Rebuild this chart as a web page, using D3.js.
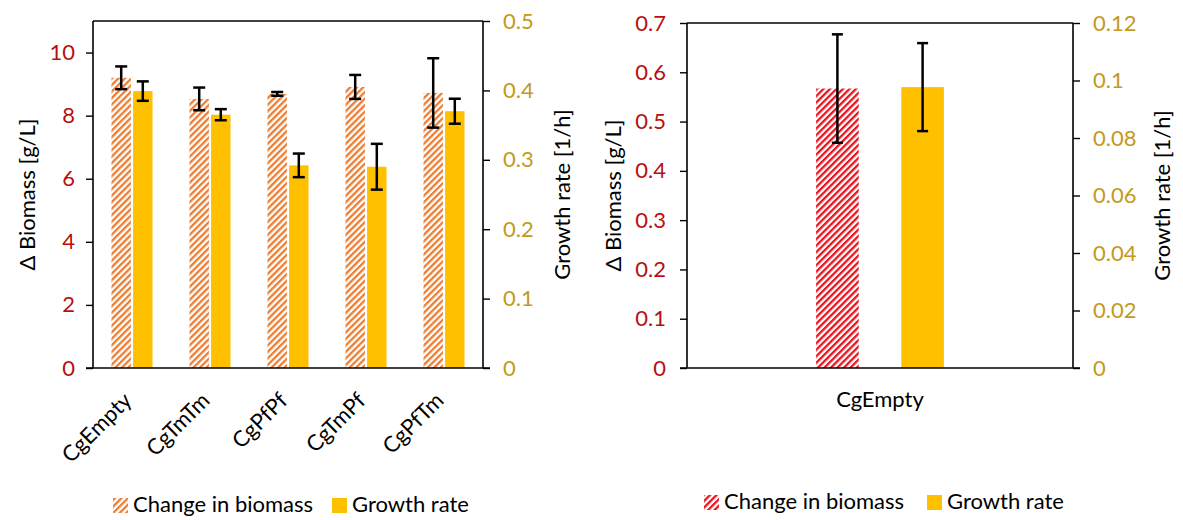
<!DOCTYPE html>
<html><head><meta charset="utf-8">
<script src="https://cdn.jsdelivr.net/npm/d3@7"></script>
<style>
html,body{margin:0;padding:0;background:#fff;}
svg text{font-family:Lato,"Open Sans",sans-serif;}
</style></head>
<body>
<svg id="c" width="1183" height="520"></svg>
<script>
// ---- data: left panel ----
const categories = ["CgEmpty","CgTmTm","CgPfPf","CgTmPf","CgPfTm"];
const biomass    = [9.20, 8.53, 8.69, 8.91, 8.72];
const biomassErr = [0.36, 0.36, 0.06, 0.38, 1.10];
const growth     = [0.399, 0.365, 0.292, 0.290, 0.370];
const growthErr  = [0.014, 0.008, 0.017, 0.033, 0.018];
const biomassTicks = [0,2,4,6,8,10];
const growthTicks  = [0,0.1,0.2,0.3,0.4,0.5];
// ---- data: right panel ----
const categories2 = ["CgEmpty"];
const biomass2    = [0.567];
const biomassErr2 = [0.110];
const growth2     = [0.0977];
const growthErr2  = [0.0153];
const biomassTicks2 = [0,0.1,0.2,0.3,0.4,0.5,0.6,0.7];
const growthTicks2  = [0,0.02,0.04,0.06,0.08,0.1,0.12];
const legendLabels = ["Change in biomass","Growth rate"];

const svg = d3.select("#c");
const RED = "#B80F0F", GOLD = "#C39A1C", YEL = "#FFC000";
const FS = 22;

const defs = svg.append("defs");
function hatch(id, color){
  const p = defs.append("pattern").attr("id", id).attr("patternUnits","userSpaceOnUse")
    .attr("width", 4.6).attr("height", 4.6).attr("patternTransform","rotate(45)");
  p.append("rect").attr("width",4.6).attr("height",4.6).attr("fill","#fff");
  p.append("rect").attr("x",0).attr("y",0).attr("width",2.3).attr("height",4.6).attr("fill",color);
}
hatch("hOrange","#ED7D31");
hatch("hRed","#E8141E");

function panel(cfg){
  const g = svg.append("g");
  const [x0,x1] = cfg.xr, [yb,yt] = cfg.yr;
  const xB = d3.scaleBand().domain(cfg.cats).range([x0,x1])
    .paddingInner(cfg.pin).paddingOuter(cfg.pout);
  const xS = d3.scaleBand().domain(["b","g"]).range([0,xB.bandwidth()]).paddingInner(cfg.sub);
  const yL = d3.scaleLinear().domain(cfg.ldom).range([yb,yt]);
  const yR = d3.scaleLinear().domain(cfg.rdom).range([yb,yt]);

  // bars
  const rows = cfg.cats.map((c,i)=>({c, b:cfg.b[i], be:cfg.be[i], gr:cfg.g[i], ge:cfg.ge[i]}));
  g.selectAll("rect.b").data(rows).join("rect")
    .attr("x", d=>xB(d.c)+xS("b")).attr("width", xS.bandwidth())
    .attr("y", d=>yL(d.b)).attr("height", d=>yb-yL(d.b))
    .attr("fill", `url(#${cfg.hatch})`);
  g.selectAll("rect.g").data(rows).join("rect")
    .attr("x", d=>xB(d.c)+xS("g")).attr("width", xS.bandwidth())
    .attr("y", d=>yR(d.gr)).attr("height", d=>yb-yR(d.gr))
    .attr("fill", YEL);

  // error bars
  function err(cx, ytop, ybot){
    const w = cfg.cap/2;
    g.append("line").attr("x1",cx).attr("x2",cx).attr("y1",ytop).attr("y2",ybot).attr("stroke","#000").attr("stroke-width",2.5);
    g.append("line").attr("x1",cx-w).attr("x2",cx+w).attr("y1",ytop).attr("y2",ytop).attr("stroke","#000").attr("stroke-width",2.5);
    g.append("line").attr("x1",cx-w).attr("x2",cx+w).attr("y1",ybot).attr("y2",ybot).attr("stroke","#000").attr("stroke-width",2.5);
  }
  rows.forEach(d=>{
    const cb = xB(d.c)+xS("b")+xS.bandwidth()/2;
    err(cb, yL(d.b+d.be), yL(d.b-d.be));
    const cg = xB(d.c)+xS("g")+xS.bandwidth()/2;
    err(cg, yR(d.gr+d.ge), yR(d.gr-d.ge));
  });

  // frame
  g.append("line").attr("x1",x0).attr("x2",x1).attr("y1",yt).attr("y2",yt).attr("stroke","#000").attr("stroke-width",1.6);
  g.append("line").attr("x1",x0-7).attr("x2",x1+7).attr("y1",yb).attr("y2",yb).attr("stroke","#000").attr("stroke-width",1.6);

  // axes
  const aL = g.append("g").attr("transform",`translate(${x0},0)`)
    .call(d3.axisLeft(yL).tickValues(cfg.lt).tickSize(7).tickPadding(cfg.lpad).tickFormat(d3.format("~g")));
  aL.select(".domain").attr("d",`M0,${yt}V${yb}`).attr("stroke","#000").attr("stroke-width",1.6);
  aL.selectAll(".tick line").attr("stroke","#000").attr("stroke-width",1.4);
  aL.selectAll(".tick text").attr("fill",RED).attr("font-size",FS).attr("font-family","Lato");
  const aR = g.append("g").attr("transform",`translate(${x1},0)`)
    .call(d3.axisRight(yR).tickValues(cfg.rt).tickSize(7).tickPadding(cfg.rpad).tickFormat(d3.format("~g")));
  aR.select(".domain").attr("d",`M0,${yt}V${yb}`).attr("stroke","#000").attr("stroke-width",1.6);
  aR.selectAll(".tick line").attr("stroke","#000").attr("stroke-width",1.4);
  aR.selectAll(".tick text").attr("fill",GOLD).attr("font-size",FS).attr("font-family","Lato");

  // titles
  const cy = (yb+yt)/2;
  g.append("text").attr("transform",`translate(${cfg.lt_x},${cy}) rotate(-90)`).attr("dy","0.35em")
    .attr("text-anchor","middle").attr("font-size",FS).attr("fill","#000").text("Δ Biomass [g/L]");
  g.append("text").attr("transform",`translate(${cfg.rt_x},${cy}) rotate(-90)`).attr("dy","0.35em")
    .attr("text-anchor","middle").attr("font-size",FS).attr("fill","#000").text("Growth rate [1/h]");

  // category labels
  if (cfg.rot){
    g.selectAll("text.cat").data(cfg.cats).join("text")
      .attr("transform", d=>`translate(${xB(d)+xB.bandwidth()/2+cfg.catdx},${cfg.caty}) rotate(-45)`)
      .attr("text-anchor","end").attr("font-size",FS).attr("fill","#000").text(d=>d);
  } else {
    g.selectAll("text.cat").data(cfg.cats).join("text")
      .attr("x", d=>xB(d)+xB.bandwidth()/2).attr("y", cfg.caty)
      .attr("text-anchor","middle").attr("font-size",FS).attr("fill","#000").text(d=>d);
  }

  // legend
  const L = cfg.leg;
  const lg = g.append("g");
  lg.append("rect").attr("x",L.x1).attr("y",L.y-14).attr("width",15).attr("height",15).attr("fill",`url(#${cfg.hatch})`);
  lg.append("text").attr("x",L.x1+20).attr("y",L.y).attr("font-size",FS).attr("fill","#000").text(legendLabels[0]);
  lg.append("rect").attr("x",L.x2).attr("y",L.y-14).attr("width",15).attr("height",15).attr("fill",YEL);
  lg.append("text").attr("x",L.x2+20).attr("y",L.y).attr("font-size",FS).attr("fill","#000").text(legendLabels[1]);
}

panel({cats:categories, b:biomass, be:biomassErr, g:growth, ge:growthErr,
  xr:[93,483], yr:[368,21], pin:0.474, pout:0.237, sub:0.1, cap:12,
  ldom:[0,11], rdom:[0,0.5], lt:biomassTicks, rt:growthTicks, lpad:11, rpad:13,
  lt_x:27, rt_x:562, rot:true, catdx:1, caty:402, hatch:"hOrange",
  leg:{x1:113, x2:332, y:512}});

panel({cats:categories2, b:biomass2, be:biomassErr2, g:growth2, ge:growthErr2,
  xr:[687,1073], yr:[368,23], pin:0, pout:1.01, sub:0.5, cap:11,
  ldom:[0,0.7], rdom:[0,0.12], lt:biomassTicks2, rt:growthTicks2, lpad:14, rpad:13,
  lt_x:613, rt_x:1162, rot:false, caty:407, hatch:"hRed",
  leg:{x1:704, x2:927, y:509}});
</script>
</body></html>
